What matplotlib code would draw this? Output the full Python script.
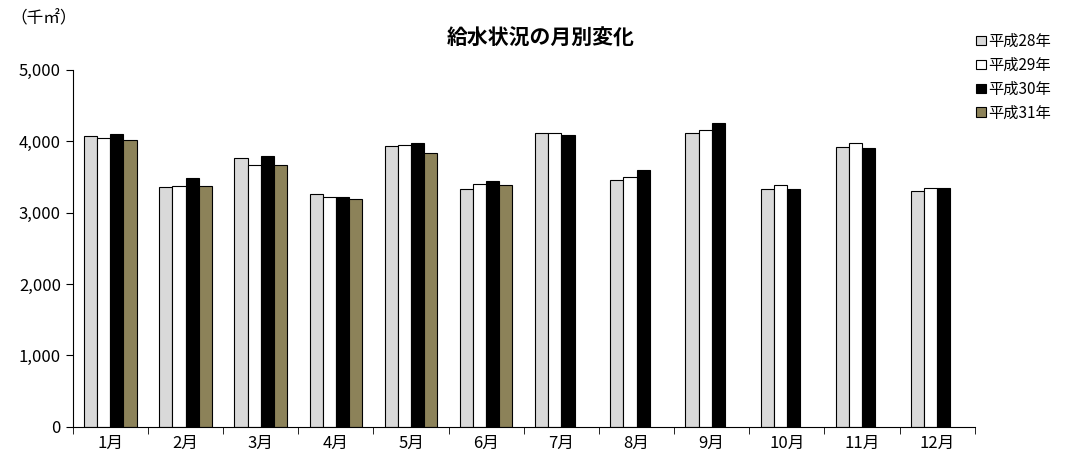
import numpy as np
import matplotlib.pyplot as plt

plt.rcParams['font.family'] = ['Noto Sans CJK JP', 'DejaVu Sans']

# データ
months = ["1月", "2月", "3月", "4月", "5月", "6月", "7月", "8月", "9月", "10月", "11月", "12月"]
h28 = [4070, 3360, 3760, 3260, 3930, 3330, 4110, 3450, 4110, 3330, 3920, 3300]
h29 = [4050, 3370, 3660, 3220, 3940, 3400, 4120, 3500, 4150, 3380, 3980, 3350]
h30 = [4100, 3480, 3790, 3220, 3970, 3440, 4080, 3600, 4250, 3330, 3900, 3350]
h31 = [4020, 3370, 3660, 3190, 3840, 3380]
labels = ["平成28年", "平成29年", "平成30年", "平成31年"]
colors = ["#d9d9d9", "#ffffff", "#000000", "#8c8259"]

fig = plt.figure(figsize=(10.7, 4.68), dpi=100)
ax = fig.add_axes([0.068, 0.088, 0.843, 0.763])

x = np.arange(len(months))
w = 0.175
series = [h28, h29, h30, h31]
for i, s in enumerate(series):
    ax.bar(x[:len(s)] + (i - 1.5) * w, s, w, color=colors[i], edgecolor='black',
           linewidth=0.8, label=labels[i])

ax.set_xlim(-0.5, 11.5)
ax.set_ylim(0, 5000)
ax.set_yticks(range(0, 5001, 1000))
ax.set_yticklabels([f"{v:,}" for v in range(0, 5001, 1000)], fontsize=12)
ax.set_xticks(x)
ax.set_xticklabels(months, fontsize=12)
ax.set_xticks(np.arange(-0.5, 12, 1), minor=True)
ax.tick_params(axis='x', which='major', length=0, pad=6)
ax.tick_params(axis='x', which='minor', length=5)
ax.tick_params(axis='y', length=5)
ax.spines['top'].set_visible(False)
ax.spines['right'].set_visible(False)

fig.text(0.505, 0.905, "給水状況の月別変化", ha='center', fontsize=15, fontweight='bold')
fig.text(0.01, 0.95, "（千㎡）", fontsize=12)
ax.legend(loc='upper left', bbox_to_anchor=(0.995, 1.12), frameon=False, fontsize=11,
          handlelength=0.6, handleheight=0.6, handletextpad=0.2, labelspacing=0.45,
          borderaxespad=0.0)

fig.savefig("out.png", dpi=100)
